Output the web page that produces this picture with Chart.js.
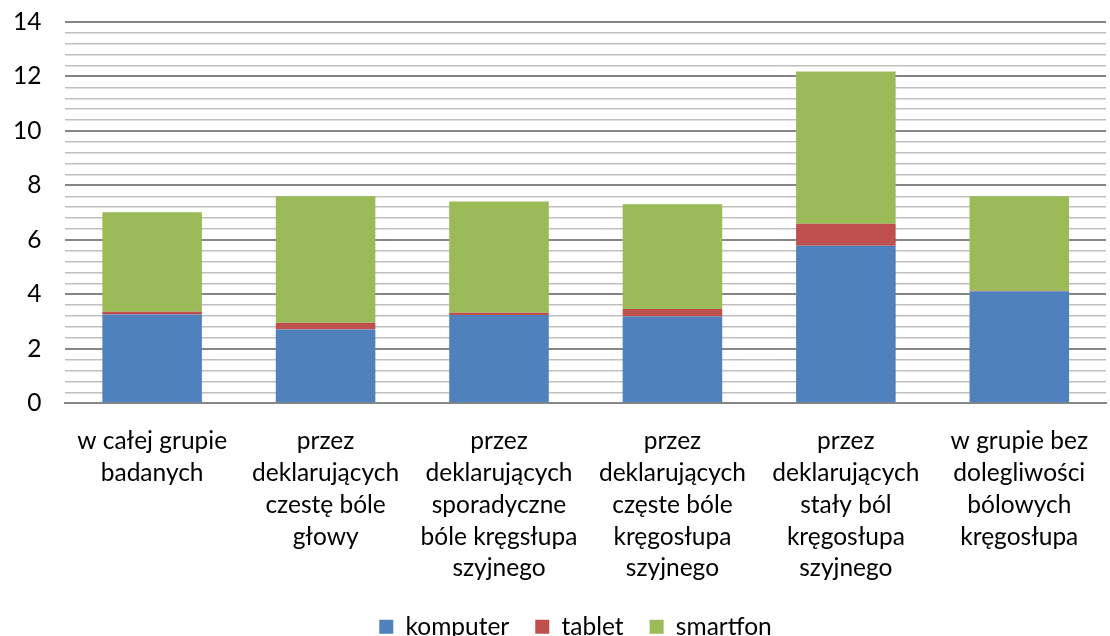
<!DOCTYPE html>
<html>
<head>
<meta charset="utf-8">
<script src="https://cdn.jsdelivr.net/npm/chart.js@4"></script>
<style>
  html, body { margin: 0; padding: 0; background: #fff; }
  #wrap { width: 1110px; height: 636px; }
</style>
</head>
<body>
<div id="wrap"><canvas id="myChart" width="1110" height="636"></canvas></div>
<script>
// grupy (kategorie osi X), każda etykieta podzielona na linie
let grupy = [
    ['w całej grupie', 'badanych'],
    ['przez', 'deklarujących', 'czestę bóle', 'głowy'],
    ['przez', 'deklarujących', 'sporadyczne', 'bóle kręgsłupa', 'szyjnego'],
    ['przez', 'deklarujących', 'częste bóle', 'kręgosłupa', 'szyjnego'],
    ['przez', 'deklarujących', 'stały ból', 'kręgosłupa', 'szyjnego'],
    ['w grupie bez', 'dolegliwości', 'bólowych', 'kręgosłupa']
]

let komputer = [3.26, 2.71, 3.24, 3.19, 5.78, 4.11]
let tablet = [0.10, 0.25, 0.08, 0.27, 0.81, 0.02]
let smartfon = [3.65, 4.64, 4.09, 3.85, 5.59, 3.47]

// oś Y: 0..14, linie co 0.4, opisy co 2
let osYmin = 0
let osYmax = 14
let krokSiatki = 0.4
let krokOpisu = 2

let czyGlowna = (v) => Math.abs(v / krokOpisu - Math.round(v / krokOpisu)) < 1e-6

let czcionka = "Lato, 'Open Sans', sans-serif"

// legenda lekko w prawo, pod środek obszaru wykresu
const przesunLegende = {
    id: 'przesunLegende',
    afterLayout(chart) {
        chart.legend.left += 26
        chart.legend.right += 26
    }
}

var ctx = document.querySelector('#myChart')

let chart = new Chart(ctx, {
    type: 'bar',
    data: {
        labels: grupy,
        datasets: [
            { label: 'komputer', data: komputer, backgroundColor: '#4f81bd' },
            { label: 'tablet', data: tablet, backgroundColor: '#c0504d' },
            { label: 'smartfon', data: smartfon, backgroundColor: '#9bbb59' }
        ]
    },
    plugins: [przesunLegende],
    options: {
        responsive: false,
        animation: false,
        devicePixelRatio: 1,
        // legenda schodzi trochę poniżej dolnej krawędzi, żeby była bliżej osi
        layout: { padding: { top: 22, right: 0, left: -11, bottom: -13 } },
        datasets: {
            bar: { categoryPercentage: 1, barPercentage: 0.574, borderWidth: 0 }
        },
        scales: {
            x: {
                stacked: true,
                grid: { display: false, drawTicks: false },
                border: { color: '#868686', width: 2 },
                ticks: {
                    color: '#000',
                    padding: 22,
                    maxRotation: 0,
                    autoSkip: false,
                    font: { family: czcionka, size: 24.5, lineHeight: 1.3 }
                },
                // oś X bierze mniej miejsca niż wylicza Chart.js
                afterFit: (skala) => { skala.height -= 18 }
            },
            y: {
                stacked: true,
                min: osYmin,
                max: osYmax,
                grid: {
                    drawTicks: false,
                    color: (c) => czyGlowna(c.tick.value) ? '#868686' : '#bfbfbf',
                    lineWidth: (c) => czyGlowna(c.tick.value) ? 2 : 1.5
                },
                border: { display: false },
                ticks: {
                    stepSize: krokSiatki,
                    maxTicksLimit: 50,
                    autoSkip: false,
                    color: '#000',
                    padding: 24,
                    font: { family: czcionka, size: 24.5 },
                    callback: (v) => czyGlowna(v) ? Math.round(v) : ''
                },
                // górny opis "14" mieści się w marginesie z layout.padding
                afterFit: (skala) => { skala.paddingTop = 0 }
            }
        },
        plugins: {
            tooltip: { enabled: false },
            legend: {
                position: 'bottom',
                labels: {
                    color: '#000',
                    boxWidth: 14,
                    boxHeight: 14,
                    padding: 26,
                    font: { family: czcionka, size: 24.5 }
                }
            }
        }
    }
})
</script>
</body>
</html>
